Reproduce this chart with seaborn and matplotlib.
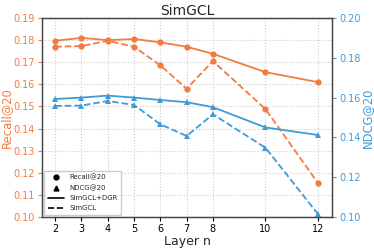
import numpy as np
import pandas as pd
import matplotlib
matplotlib.use("Agg")
import matplotlib.pyplot as plt
import seaborn as sns
from matplotlib.lines import Line2D

layers = [2, 3, 4, 5, 6, 7, 8, 10, 12]
recall_dgr = [0.1797, 0.1810, 0.1800, 0.1805, 0.1790, 0.1770, 0.1738, 0.1655, 0.1610]
recall_base = [0.1770, 0.1773, 0.1797, 0.1770, 0.1686, 0.1580, 0.1705, 0.1488, 0.1153]
ndcg_dgr = [0.1593, 0.1600, 0.1610, 0.1600, 0.1588, 0.1577, 0.1552, 0.1450, 0.1412]
ndcg_base = [0.1558, 0.1560, 0.1583, 0.1563, 0.1466, 0.1407, 0.1516, 0.1348, 0.1014]

orange = "#F47B3F"
blue = "#3F9BD8"

sns.set_style("white")
plt.rcParams['font.family'] = ['DejaVu Sans']

fig = plt.figure(figsize=(3.74, 2.49), dpi=100)
ax = fig.add_axes([42 / 374, 1 - 217 / 249, 290 / 374, 199 / 249])
ax2 = ax.twinx()

df_r = pd.DataFrame({"layer": layers * 2,
                     "value": recall_dgr + recall_base,
                     "model": ["SimGCL+DGR"] * 9 + ["SimGCL"] * 9})
df_n = pd.DataFrame({"layer": layers * 2,
                     "value": ndcg_dgr + ndcg_base,
                     "model": ["SimGCL+DGR"] * 9 + ["SimGCL"] * 9})

for m, ls in [("SimGCL+DGR", "-"), ("SimGCL", "--")]:
    sub = df_r[df_r.model == m]
    sns.lineplot(data=sub, x="layer", y="value", ax=ax, color=orange, marker="o",
                 markersize=4.5, markeredgewidth=0, linestyle=ls, linewidth=1.3, legend=False)
    sub = df_n[df_n.model == m]
    sns.lineplot(data=sub, x="layer", y="value", ax=ax2, color=blue, marker="^",
                 markersize=4.5, markeredgewidth=0, linestyle=ls, linewidth=1.3, legend=False)

ax.set_xlim(1.5, 12.53)
ax.set_ylim(0.10, 0.19)
ax2.set_ylim(0.10, 0.20)
ax.set_xticks(layers)
lt = np.arange(0.10, 0.1901, 0.01)
rt = np.arange(0.10, 0.2001, 0.02)
ax.set_yticks(lt)
ax2.set_yticks(rt)
ax.set_yticklabels([f"{v:.2f}" for v in lt])
ax2.set_yticklabels([f"{v:.2f}" for v in rt])

ax.grid(True, linestyle=":", color="#cccccc", linewidth=0.8)
ax.set_axisbelow(True)

ax.tick_params(axis="y", colors=orange, labelsize=7, length=3, width=0.8, direction="out", left=True, pad=2)
ax2.tick_params(axis="y", colors=blue, labelsize=7, length=3, width=0.8, direction="out", right=True, pad=2)
ax.tick_params(axis="x", colors="black", labelsize=7, length=3, width=0.8, bottom=True, pad=2)
for a in (ax, ax2):
    for s in a.spines.values():
        s.set_color("#444444")
        s.set_linewidth(0.9)

ax.set_xlabel("Layer n", fontsize=9, labelpad=1)
ax.set_ylabel("Recall@20", fontsize=8.3, color=orange)
ax.yaxis.set_label_coords(-0.1, 0.5)
ax2.set_ylabel("NDCG@20", fontsize=8.3, color=blue)
ax2.yaxis.set_label_coords(1.098, 0.5)
ax.set_title("SimGCL", fontsize=10, pad=2)

handles = [
    Line2D([], [], color="black", marker="o", linestyle="", markersize=3.5),
    Line2D([], [], color="black", marker="^", linestyle="", markersize=3.5),
    Line2D([], [], color="black", linestyle="-", linewidth=1.2),
    Line2D([], [], color="black", linestyle="--", linewidth=1.2),
]
labels = ["Recall@20", "NDCG@20", "SimGCL+DGR", "SimGCL"]
ax.legend(handles, labels, loc="lower left", fontsize=5, frameon=True,
          handlelength=2.3, borderpad=0.5, labelspacing=0.6, framealpha=1,
          edgecolor="#cccccc", borderaxespad=0.3)

fig.savefig("out.png", dpi=100)
